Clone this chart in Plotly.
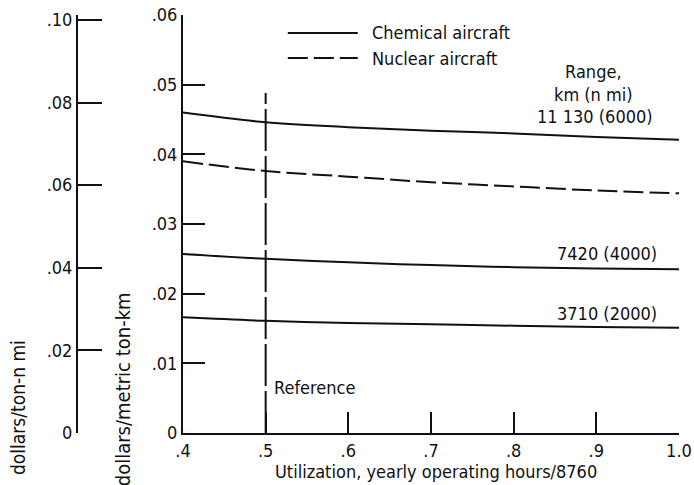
import plotly.graph_objects as go

# utilization, yearly operating hours / 8760
utilization = [0.4, 0.5, 0.6, 0.7, 0.8, 0.9, 1.0]

# direct operating cost, dollars / metric ton-km
chem_6000 = [0.0460, 0.0446, 0.0439, 0.0434, 0.0430, 0.0425, 0.0421]
nuclear_6000 = [0.0390, 0.0376, 0.0368, 0.0360, 0.0354, 0.0348, 0.0344]
chem_4000 = [0.0257, 0.0250, 0.0245, 0.0241, 0.0238, 0.0236, 0.0235]
chem_2000 = [0.0166, 0.0161, 0.0158, 0.0156, 0.0154, 0.0152, 0.0151]

range_labels = ["11 130 (6000)", "7420 (4000)", "3710 (2000)"]

x_ticks = [0.4, 0.5, 0.6, 0.7, 0.8, 0.9, 1.0]
x_ticktext = [".4", ".5", ".6", ".7", ".8", ".9", "1.0"]
y_ticks = [0, 0.01, 0.02, 0.03, 0.04, 0.05, 0.06]
y_ticktext = ["0", ".01", ".02", ".03", ".04", ".05", ".06"]
y2_ticks = [0, 0.02, 0.04, 0.06, 0.08, 0.10]
y2_ticktext = ["0", ".02", ".04", ".06", ".08", ".10"]

ref_util = 0.5
ref_top = 0.0488

FONT = "DejaVu Sans Condensed"
INK = "#111111"

fig = go.Figure()

solid = dict(color=INK, width=2)
dashed = dict(color=INK, width=2, dash="20px,6px")

fig.add_trace(go.Scatter(x=utilization, y=chem_6000, mode="lines", line=solid, line_shape="spline"))
fig.add_trace(go.Scatter(x=utilization, y=nuclear_6000, mode="lines", line=dashed, line_shape="spline"))
fig.add_trace(go.Scatter(x=utilization, y=chem_4000, mode="lines", line=solid, line_shape="spline"))
fig.add_trace(go.Scatter(x=utilization, y=chem_2000, mode="lines", line=solid, line_shape="spline"))

# reference utilization line
fig.add_trace(go.Scatter(x=[ref_util, ref_util], y=[0, ref_top], mode="lines",
                         line=dict(color=INK, width=2, dash="42px,5px")))

# legend drawn by hand (long line samples)
fig.add_shape(type="line", xref="paper", yref="paper", x0=0.368, x1=0.481, y0=0.957, y1=0.957,
              line=dict(color=INK, width=2))
fig.add_shape(type="line", xref="paper", yref="paper", x0=0.368, x1=0.481, y0=0.897, y1=0.897,
              line=dict(color=INK, width=2, dash="20px,6px"))
fig.add_annotation(text="Chemical aircraft", xref="paper", yref="paper", x=0.500, y=0.957,
                   xanchor="left", yanchor="middle", showarrow=False)
fig.add_annotation(text="Nuclear aircraft", xref="paper", yref="paper", x=0.500, y=0.897,
                   xanchor="left", yanchor="middle", showarrow=False)

fig.add_annotation(text="Range,<br>km (n mi)", x=0.896, y=0.0502, xanchor="center", yanchor="middle",
                   showarrow=False)
fig.add_annotation(text=range_labels[0], x=0.971, y=0.0454, xanchor="right", yanchor="middle", showarrow=False)
fig.add_annotation(text=range_labels[1], x=0.976, y=0.0258, xanchor="right", yanchor="middle", showarrow=False)
fig.add_annotation(text=range_labels[2], x=0.976, y=0.0172, xanchor="right", yanchor="middle", showarrow=False)
fig.add_annotation(text="Reference", x=0.5076, y=0.0065, xanchor="left", yanchor="middle", showarrow=False)

# axis titles
fig.add_annotation(text="dollars/ton-n mi", xref="paper", yref="paper", x=-0.068, y=0.062,
                   textangle=-90, xanchor="center", yanchor="middle", showarrow=False,
                   font=dict(size=19))
fig.add_annotation(text="dollars/metric ton-km", xref="paper", yref="paper", x=0.102, y=0.105,
                   textangle=-90, xanchor="center", yanchor="middle", showarrow=False,
                   font=dict(size=20))
fig.add_annotation(text="Utilization, yearly operating hours/8760", xref="paper", yref="paper",
                   x=0.607, y=-0.093, xanchor="center", yanchor="middle", showarrow=False)

fig.update_layout(
    width=694, height=485,
    margin=dict(l=60, r=15, t=15, b=52),
    plot_bgcolor="white", paper_bgcolor="white",
    showlegend=False,
    font=dict(family=FONT, size=18, color=INK),
    xaxis=dict(
        domain=[0.1987, 1], range=[0.4, 1.0],
        tickvals=x_ticks, ticktext=x_ticktext,
        ticks="inside", ticklen=21, tickwidth=2, tickcolor=INK,
        showline=True, linecolor=INK, linewidth=2,
        showgrid=False, zeroline=False, automargin=False,
        tickfont=dict(size=18),
    ),
    yaxis=dict(
        range=[0, 0.06],
        tickvals=y_ticks, ticktext=y_ticktext,
        ticks="inside", ticklen=22, tickwidth=2, tickcolor=INK,
        showline=True, linecolor=INK, linewidth=2,
        showgrid=False, zeroline=False, automargin=False,
        tickfont=dict(size=18),
    ),
    yaxis2=dict(
        overlaying="y", anchor="free", position=0.0275, side="left",
        range=[0, 0.1012],
        tickvals=y2_ticks, ticktext=y2_ticktext,
        ticks="inside", ticklen=24, tickwidth=2, tickcolor=INK,
        showline=True, linecolor=INK, linewidth=2,
        showgrid=False, zeroline=False, automargin=False,
        tickfont=dict(size=18),
    ),
)

# invisible trace so the secondary axis is drawn
fig.add_trace(go.Scatter(x=[None], y=[None], yaxis="y2", hoverinfo="skip"))

fig.write_html("out.html", config={"displayModeBar": False},
               post_script="document.body.style.margin='0';")
